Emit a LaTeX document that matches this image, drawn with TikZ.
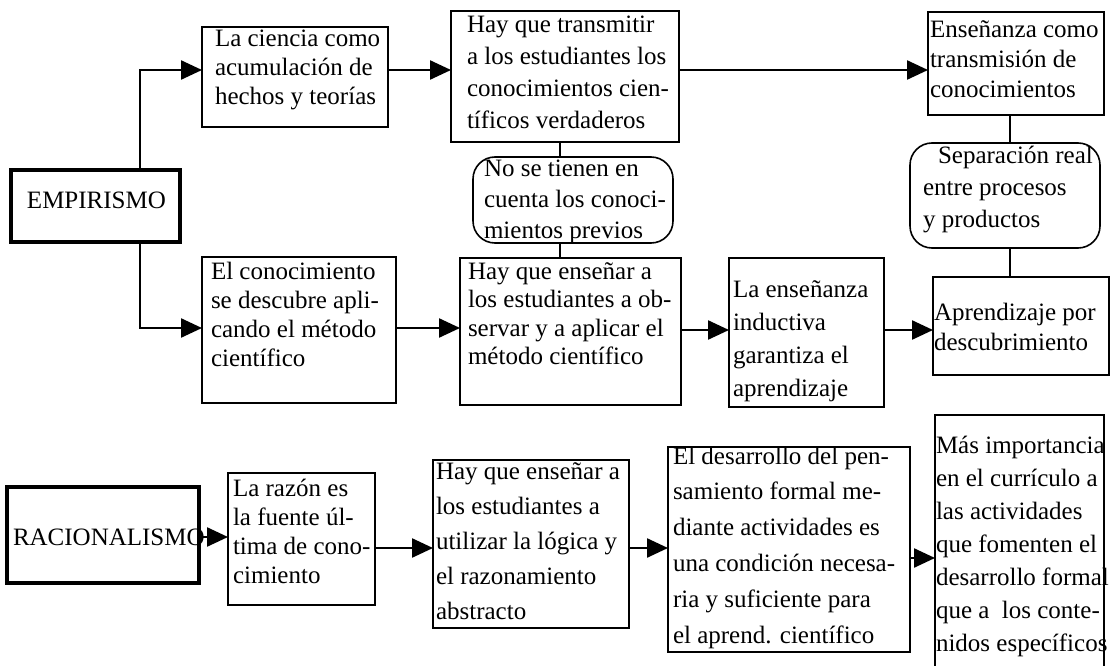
\documentclass[tikz,border=0pt]{standalone}
\usepackage{fontspec}
\setmainfont{Liberation Serif}
\usetikzlibrary{arrows.meta}
% #1 line spacing, #2 width, #3 height, #4 first baseline from top, #5 left pad, #6 lines
\newcommand{\bt}[6][30]{\parbox[c][#3pt][t]{#2pt}{\fontsize{25pt}{#1pt}\selectfont\vspace*{\dimexpr #4pt-0.7\baselineskip\relax}\hspace*{#5pt}\begin{tabular}[t]{@{}l@{}}#6\end{tabular}}}
\begin{document}
\begin{tikzpicture}[x=1pt,y=-1pt,
 bx/.style={draw, line width=1.6pt, inner sep=0pt, outer sep=0pt, anchor=north west},
 rbx/.style={bx, rounded corners=22pt},
 tbx/.style={bx, line width=3.8pt},
 arr/.style={line width=2.4pt, -{Triangle[length=21pt,width=19pt]}},
 ln/.style={line width=2pt}]
\useasboundingbox (0,0) rectangle (1113,666);

\node[tbx] (emp) at (11,170) {\bt{169}{72}{38}{16}{EMPIRISMO}};
\node[tbx] (rac) at (7,487) {\bt{192}{96}{58}{6}{RACIONALISMO}};
\node[bx] (cien) at (202,27) {\bt[29]{186}{100}{20}{13}{La ciencia como\\acumulación de\\hechos y teorías}};
\node[bx] (hay1) at (451,11) {\bt[32]{228}{131}{22}{16}{Hay que transmitir\\a los estudiantes los\\conocimientos cien-\\tíficos verdaderos}};
\node[bx] (ens) at (928,12) {\bt{176}{103}{26}{2}{Enseñanza como\\transmisión de\\conocimientos}};
\node[rbx] (nose) at (473,157) {\bt[31]{200}{86}{19}{11}{No se tienen en\\cuenta los conoci-\\mientos previos}};
\node[rbx] (sep) at (910,143) {\bt[32]{190}{105}{20}{13}{\hspace*{15pt}Separación real\\entre procesos\\y productos}};
\node[bx] (con) at (202,257) {\bt[29]{194}{146}{22}{9}{El conocimiento\\se descubre apli-\\cando el método\\científico}};
\node[bx] (hay2) at (460,258) {\bt[28.5]{221}{147}{21}{8}{Hay que enseñar a\\los estudiantes a ob-\\servar y a aplicar el\\método científico}};
\node[bx] (ind) at (729,258) {\bt[33]{155}{149}{39}{4}{La enseñanza\\inductiva\\garantiza el\\aprendizaje}};
\node[bx] (apr) at (933,277) {\bt{176}{98}{43}{1}{Aprendizaje por\\descubrimiento}};
\node[bx] (raz) at (228,473) {\bt[29]{147}{132}{23}{5}{La razón es\\la fuente úl-\\tima de cono-\\cimiento}};
\node[bx] (hay3) at (433,460) {\bt[35]{196}{168}{19}{3}{Hay que enseñar a\\los estudiantes a\\utilizar la lógica y\\el razonamiento\\abstracto}};
\node[bx] (des) at (668,447) {\bt[35.8]{242}{205}{17}{5}{El desarrollo del pen-\\samiento formal me-\\diante actividades es\\una condición necesa-\\ria y suficiente para\\el aprend. científico}};
\node[bx] (mas) at (935,415) {\bt[33]{169}{262}{38}{1}{Más importancia\\en el currículo a\\las actividades\\que fomenten el\\desarrollo formal\\que a\ \ los conte-\\nidos específicos}};

\draw[arr] (emp.north -| 140,0) |- (cien.west |- 0,70);
\draw[arr] (cien.east |- 0,70) -- (hay1.west |- 0,70);
\draw[arr] (hay1.east |- 0,70) -- (ens.west |- 0,70);
\draw[ln] (hay1.south -| 560,0) -- (nose.north -| 560,0);
\draw[ln] (nose.south -| 560,0) -- (hay2.north -| 560,0);
\draw[ln] (ens.south -| 1010,0) -- (sep.north -| 1010,0);
\draw[ln] (sep.south -| 1010,0) -- (apr.north -| 1010,0);
\draw[arr] (emp.south -| 140,0) |- (con.west |- 0,328);
\draw[arr] (con.east |- 0,328) -- (hay2.west |- 0,328);
\draw[arr] (hay2.east |- 0,330) -- (ind.west |- 0,330);
\draw[arr] (ind.east |- 0,330) -- (apr.west |- 0,330);
\draw[arr] (rac.east |- 0,537) -- (raz.west |- 0,537);
\draw[arr] (raz.east |- 0,548) -- (hay3.west |- 0,548);
\draw[arr] (hay3.east |- 0,548) -- (des.west |- 0,548);
\draw[arr] (des.east |- 0,558) -- (mas.west |- 0,558);
\end{tikzpicture}
\end{document}
